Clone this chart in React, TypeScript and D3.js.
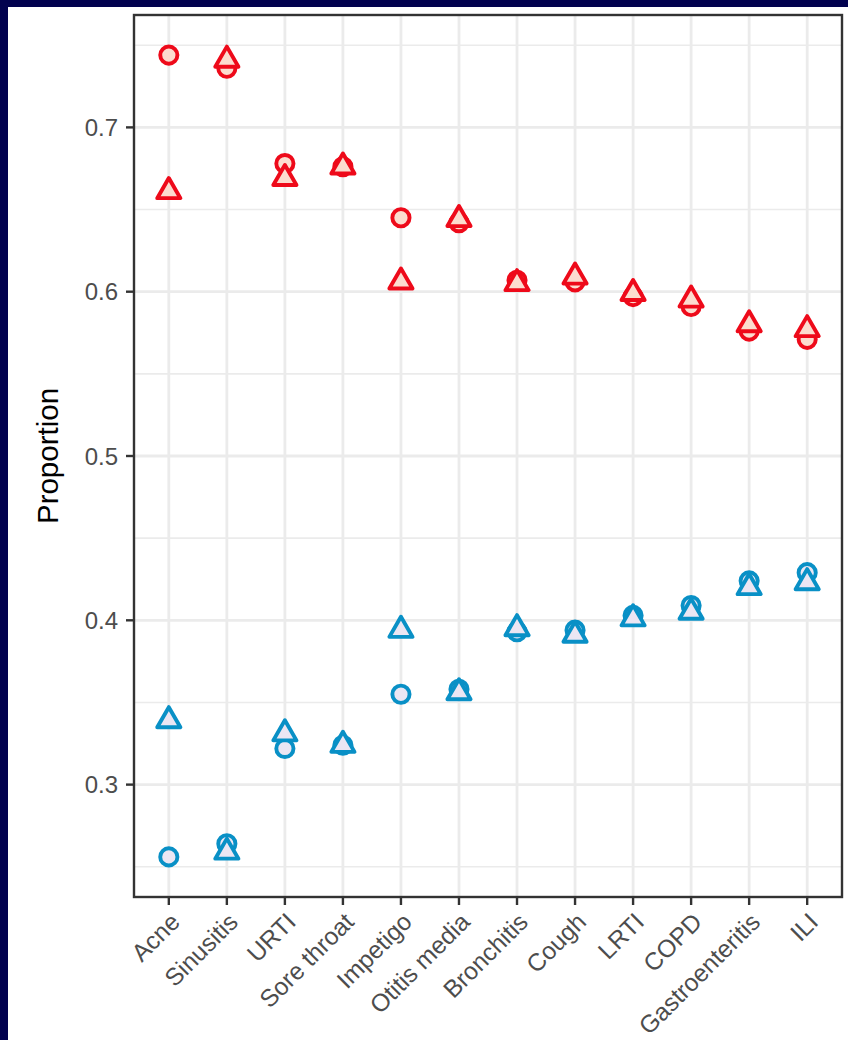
import React from "react";
import * as d3 from "d3";

const categories = ["Acne", "Sinusitis", "URTI", "Sore throat", "Impetigo", "Otitis media", "Bronchitis", "Cough", "LRTI", "COPD", "Gastroenteritis", "ILI"];
const redCircle = [0.744, 0.736, 0.678, 0.676, 0.645, 0.642, 0.607, 0.606, 0.597, 0.591, 0.576, 0.571];
const redTriangle = [0.661, 0.741, 0.669, 0.676, 0.606, 0.644, 0.605, 0.609, 0.599, 0.595, 0.580, 0.577];
const blueCircle = [0.256, 0.264, 0.322, 0.324, 0.355, 0.358, 0.393, 0.394, 0.403, 0.409, 0.424, 0.429];
const blueTriangle = [0.339, 0.259, 0.331, 0.324, 0.394, 0.356, 0.395, 0.391, 0.401, 0.405, 0.420, 0.423];
const yTicks = [0.3, 0.4, 0.5, 0.6, 0.7];
const yMinor = [0.25, 0.35, 0.45, 0.55, 0.65, 0.75];

const W = 848, H = 1040;
const panel = { left: 134, right: 842, top: 15, bottom: 897 };
const RED = "#EE0A1A", RED_FILL = "#FCDCCF";
const BLUE = "#0990C6", BLUE_FILL = "#EBE6F3";
const FONT = "'Liberation Sans', Arial, Helvetica, sans-serif";

export default function App() {
  const all = [...redCircle, ...redTriangle, ...blueCircle, ...blueTriangle];
  const lo = d3.min(all)!, hi = d3.max(all)!;
  const pad = (hi - lo) * 0.05;
  const y = d3.scaleLinear().domain([lo - pad, hi + pad]).range([panel.bottom, panel.top]);
  const x = d3.scalePoint<string>().domain(categories).range([panel.left, panel.right]).padding(0.6);

  const rad = 8.6;
  const tri = d3.path();
  tri.moveTo(0, -1.5551 * rad);
  tri.lineTo(1.3468 * rad, 0.7776 * rad);
  tri.lineTo(-1.3468 * rad, 0.7776 * rad);
  tri.closePath();
  const triPath = tri.toString();
  const sw = 3.9;

  const circles = (vals: number[], stroke: string, fill: string, key: string) =>
    vals.map((v, i) => (
      <circle key={key + i} cx={x(categories[i])} cy={y(v)} r={rad} fill={fill} stroke={stroke} strokeWidth={sw} />
    ));
  const triangles = (vals: number[], stroke: string, fill: string, key: string) =>
    vals.map((v, i) => (
      <path key={key + i} d={triPath} transform={`translate(${x(categories[i])},${y(v)})`} fill={fill} stroke={stroke} strokeWidth={sw} strokeLinejoin="round" />
    ));

  return (
    <svg width={W} height={H} style={{ position: "absolute", left: 0, top: 0 }} fontFamily={FONT}>
      <rect x={0} y={0} width={W} height={H} fill="#02024F" />
      <rect x={8} y={7} width={W - 8} height={H - 7} fill="#FFFFFF" />
      {yMinor.filter(v => y(v) > panel.top && y(v) < panel.bottom).map(v => (
        <line key={"mn" + v} x1={panel.left} x2={panel.right} y1={y(v)} y2={y(v)} stroke="#EBEBEB" strokeWidth={1.6} />
      ))}
      {yTicks.map(v => (
        <line key={"mj" + v} x1={panel.left} x2={panel.right} y1={y(v)} y2={y(v)} stroke="#EBEBEB" strokeWidth={2.8} />
      ))}
      {categories.map(c => (
        <line key={"vx" + c} x1={x(c)} x2={x(c)} y1={panel.top} y2={panel.bottom} stroke="#EBEBEB" strokeWidth={2.8} />
      ))}
      {circles(redCircle, RED, RED_FILL, "rc")}
      {triangles(redTriangle, RED, RED_FILL, "rt")}
      {circles(blueCircle, BLUE, BLUE_FILL, "bc")}
      {triangles(blueTriangle, BLUE, BLUE_FILL, "bt")}
      <rect x={panel.left} y={panel.top} width={panel.right - panel.left} height={panel.bottom - panel.top} fill="none" stroke="#333333" strokeWidth={2.4} />
      {yTicks.map(v => (
        <g key={"yt" + v}>
          <line x1={panel.left - 8} x2={panel.left} y1={y(v)} y2={y(v)} stroke="#333333" strokeWidth={2.4} />
          <text x={panel.left - 16} y={y(v)} dy="0.36em" textAnchor="end" fontSize={24} fill="#4D4D4D">{v.toFixed(1)}</text>
        </g>
      ))}
      {categories.map(c => (
        <g key={"xt" + c}>
          <line x1={x(c)} x2={x(c)} y1={panel.bottom} y2={panel.bottom + 8} stroke="#333333" strokeWidth={2.4} />
          <text transform={`translate(${x(c)},${panel.bottom + 14}) rotate(-45)`} dy="0.72em" textAnchor="end" fontSize={24.5} fill="#4D4D4D">{c}</text>
        </g>
      ))}
      <text transform={`translate(58,${(panel.top + panel.bottom) / 2}) rotate(-90)`} textAnchor="middle" fontSize={29.5} fill="#000000">Proportion</text>
    </svg>
  );
}
